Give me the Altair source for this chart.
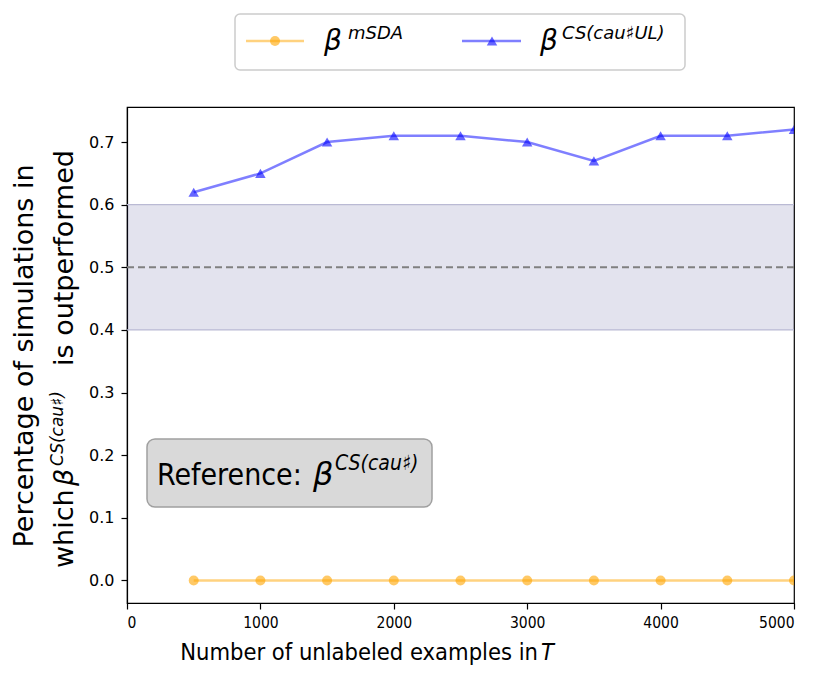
import altair as alt
import pandas as pd

# ---- data ----
n_unlabeled = [500, 1000, 1500, 2000, 2500, 3000, 3500, 4000, 4500, 5000]
beta_msda = [0.0, 0.0, 0.0, 0.0, 0.0, 0.0, 0.0, 0.0, 0.0, 0.0]
beta_cs_ul = [0.62, 0.65, 0.70, 0.71, 0.71, 0.70, 0.67, 0.71, 0.71, 0.72]
band_low, band_high, ref_level = 0.4, 0.6, 0.5
x_ticks = [0, 1000, 2000, 3000, 4000, 5000]
y_ticks = [0.0, 0.1, 0.2, 0.3, 0.4, 0.5, 0.6, 0.7]

W, H = 667, 496
OX, OY = 127, 107  # page position of the plot origin
COND = "'DejaVu Sans Condensed', 'DejaVu Sans'"
SANS = "DejaVu Sans"

df = pd.DataFrame({"n": n_unlabeled, "msda": beta_msda, "csul": beta_cs_ul})
band_df = pd.DataFrame({"lo": [band_low], "hi": [band_high], "x0": [0], "x1": [5000]})
ref_df = pd.DataFrame({"y": [ref_level]})
dummy = pd.DataFrame({"d": [0]})

xs = alt.Scale(domain=[0, 5000], nice=False, zero=False)
ys = alt.Scale(domain=[-0.036, 0.756], nice=False, zero=False)

xax = alt.Axis(values=x_ticks, format="d", title=None, grid=False, labelFont=COND,
               labelFontSize=15.5, labelPadding=6, tickSize=6, labelColor="black",
               tickColor="black", domainColor="black")
yax = alt.Axis(values=y_ticks, format=".1f", title=None, grid=False, labelFont=SANS,
               labelFontSize=16, labelPadding=7, tickSize=6, labelColor="black",
               tickColor="black", domainColor="black")

band = alt.Chart(band_df).mark_rect(color="#191970", opacity=0.12).encode(
    x=alt.X("x0:Q", scale=xs, axis=xax), x2="x1:Q",
    y=alt.Y("lo:Q", scale=ys, axis=yax), y2="hi:Q")
band_edges = alt.Chart(pd.DataFrame({"y": [band_low, band_high]})).mark_rule(
    color="#babad4", strokeWidth=1.2).encode(y=alt.Y("y:Q", scale=ys))
ref_line = alt.Chart(ref_df).mark_rule(color="#808080", strokeWidth=2,
                                       strokeDash=[7, 4]).encode(y=alt.Y("y:Q", scale=ys))

msda_line = alt.Chart(df).mark_line(color="orange", opacity=0.5, strokeWidth=2.5, clip=True).encode(
    x=alt.X("n:Q", scale=xs), y=alt.Y("msda:Q", scale=ys))
msda_pts = alt.Chart(df).mark_point(shape="circle", filled=True, color="orange", opacity=0.6,
                                    size=100, clip=True).encode(
    x=alt.X("n:Q", scale=xs), y=alt.Y("msda:Q", scale=ys))
cs_line = alt.Chart(df).mark_line(color="blue", opacity=0.5, strokeWidth=2.5, clip=True).encode(
    x=alt.X("n:Q", scale=xs), y=alt.Y("csul:Q", scale=ys))
cs_pts = alt.Chart(df).mark_point(shape="triangle-up", filled=True, color="blue", opacity=0.6,
                                  size=110, clip=True).encode(
    x=alt.X("n:Q", scale=xs), y=alt.Y("csul:Q", scale=ys))


def txt(s, px, py, size, italic=False, align="left", angle=0, font=SANS):
    return alt.Chart(dummy).mark_text(
        text=s, align=align, baseline="alphabetic", fontSize=size, font=font,
        fontStyle="italic" if italic else "normal", angle=angle, color="black"
    ).encode(x=alt.value(px - OX), y=alt.value(py - OY))


def box(x0, y0, x1, y1, fill, stroke, radius, sw=1.2):
    return alt.Chart(dummy).mark_rect(fill=fill, stroke=stroke, strokeWidth=sw,
                                      cornerRadius=radius).encode(
        x=alt.value(x0 - OX), x2=alt.value(x1 - OX), y=alt.value(y0 - OY), y2=alt.value(y1 - OY))


def hline(x0, x1, py, color):
    return alt.Chart(dummy).mark_rule(color=color, opacity=0.5, strokeWidth=2.5).encode(
        x=alt.value(x0 - OX), x2=alt.value(x1 - OX), y=alt.value(py - OY))


def marker(px, py, shape, color, size):
    return alt.Chart(dummy).mark_point(shape=shape, filled=True, color=color, opacity=0.6,
                                       size=size).encode(x=alt.value(px - OX), y=alt.value(py - OY))


# legend
legend = [
    box(235, 14, 685, 70, "white", "#cccccc", 5, 1.5),
    hline(246, 304, 41, "orange"), marker(275, 41, "circle", "orange", 100),
    txt("β", 324, 50, 28, italic=True), txt("mSDA", 348, 39, 18, italic=True),
    hline(462, 521, 41, "blue"), marker(492, 41, "triangle-up", "blue", 110),
    txt("β", 540, 50, 28, italic=True), txt("CS(cau♯UL)", 562, 39, 18, italic=True),
]

# annotation box
annot = [
    box(147, 439, 432, 507, "#d9d9d9", "#a0a0a0", 8, 1.5),
    txt("Reference:", 157, 485, 30, font=COND),
    txt("β", 313, 485, 32, italic=True),
    txt("CS(cau♯)", 335, 470, 21, italic=True, font=COND),
]

# axis titles
titles = [
    txt("Number of unlabeled examples in", 538, 660, 23.5, align="right", font=COND),
    txt("T", 541, 660, 23.5, italic=True, font=COND),
    txt("Percentage of simulations in", 33, 356, 27, align="center", angle=270),
    txt("which", 73, 568, 27, angle=270),
    txt("β", 73, 486, 27, italic=True, angle=270),
    txt("CS(cau♯)", 63, 466, 17, italic=True, angle=270),
    txt("is outperformed", 73, 366, 27, angle=270),
]

chart = alt.layer(
    band, band_edges, ref_line, msda_line, msda_pts, cs_line, cs_pts,
    *legend, *annot, *titles
).properties(
    width=W, height=H,
    autosize=alt.AutoSizeParams(type="none"),
    padding={"left": OX - 8, "top": OY - 8, "right": 20, "bottom": 70},
).configure_view(stroke="black", strokeWidth=1.2).configure_axis(domainWidth=1.2, tickWidth=1.2)

chart.save("out.html", embed_options={"renderer": "svg", "actions": False})
